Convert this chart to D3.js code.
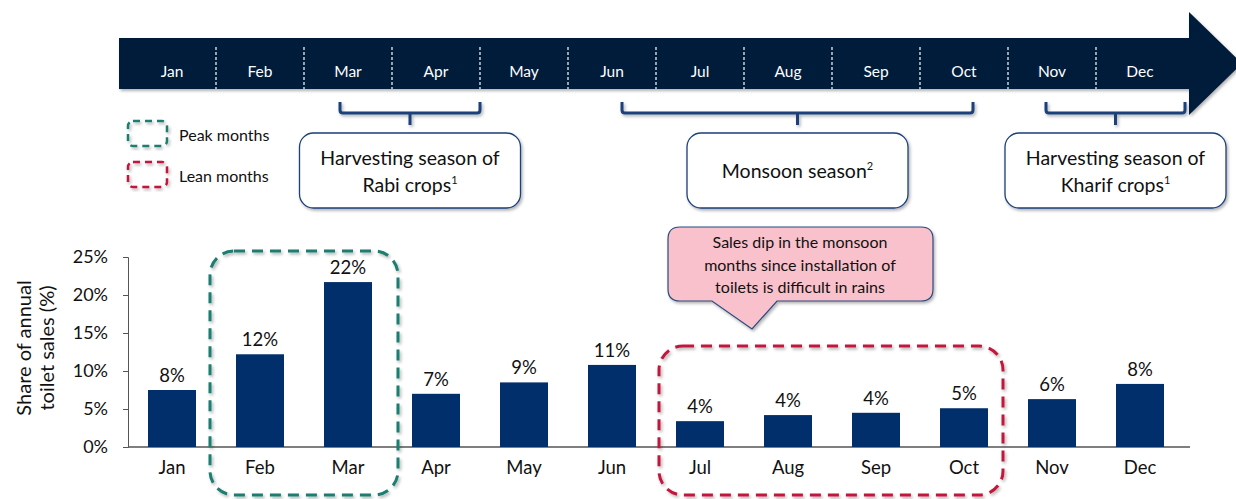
<!DOCTYPE html>
<html>
<head>
<meta charset="utf-8">
<script src="https://cdn.jsdelivr.net/npm/d3@7"></script>
<style>
  body { margin: 0; background: #fff; }
  svg { font-family: Lato, "Open Sans", sans-serif; }
</style>
</head>
<body>
<svg width="1236" height="499"></svg>
<script>
// data
var months = ["Jan", "Feb", "Mar", "Apr", "May", "Jun", "Jul", "Aug", "Sep", "Oct", "Nov", "Dec"];
var share = [7.5, 12.2, 21.7, 7.0, 8.5, 10.8, 3.4, 4.2, 4.5, 5.1, 6.3, 8.3];
var shareLabels = ["8%", "12%", "22%", "7%", "9%", "11%", "4%", "4%", "4%", "5%", "6%", "8%"];
var yTicks = [0, 5, 10, 15, 20, 25];

var seasons = [
  { from: "Mar", to: "Apr", lines: ["Harvesting season of", "Rabi crops"], sup: "1" },
  { from: "Jun", to: "Oct", lines: ["Monsoon season"], sup: "2" },
  { from: "Nov", to: "Dec", lines: ["Harvesting season of", "Kharif crops"], sup: "1" }
];
var peakMonths = ["Feb", "Mar"];
var leanMonths = ["Jul", "Aug", "Sep", "Oct"];
var calloutLines = ["Sales dip in the monsoon", "months since installation of", "toilets is difficult in rains"];

var navy = "#002f6c", dark = "#061a3a", teal = "#1b7d70", red = "#c3173d";

var svg = d3.select("svg");

var defs = svg.append("defs");
var f = defs.append("filter").attr("id", "shadow").attr("x", "-10%").attr("y", "-10%").attr("width", "130%").attr("height", "130%");
f.append("feDropShadow").attr("dx", 1.5).attr("dy", 2).attr("stdDeviation", 1.5)
  .attr("flood-color", "#000").attr("flood-opacity", 0.3);

// **** scales ****
var x = d3.scaleBand().domain(months).range([128, 1184])
  .paddingInner(40 / 88).paddingOuter(20 / 88);
var step = x.step();
function cellStart(m) { return x(m) - (step - x.bandwidth()) / 2; }
function center(m) { return x(m) + x.bandwidth() / 2; }

var y = d3.scaleLinear().domain([0, 25]).range([447, 257]);

// **** timeline arrow ****
var tl = svg.append("g");
tl.append("path")
  .attr("d", "M119,38 H1189 V12 L1242,63.5 L1189,115 V89 H119 Z")
  .attr("fill", dark).attr("filter", "url(#shadow)");

tl.selectAll("line.sep").data(months.slice(1))
  .enter().append("line")
  .attr("x1", function(d) { return cellStart(d); })
  .attr("x2", function(d) { return cellStart(d); })
  .attr("y1", 47).attr("y2", 89)
  .attr("stroke", "#fff").attr("stroke-width", 1.2).attr("stroke-dasharray", "3,2");

tl.selectAll("text").data(months)
  .enter().append("text")
  .attr("x", function(d) { return center(d); })
  .attr("y", 77)
  .attr("text-anchor", "middle")
  .attr("fill", "#fff").attr("font-size", 15.5)
  .text(function(d) { return d; });

// **** season braces and boxes ****
var braceX = [
  [center("Mar") - 8, cellStart("Apr") + step],
  [center("Jun") + 10, center("Oct") + 9],
  [center("Nov") - 6, cellStart("Dec") + step + 1]
];
seasons.forEach(function(s, i) {
  var x0 = braceX[i][0], x1 = braceX[i][1], xm = (x0 + x1) / 2;
  svg.append("path")
    .attr("d", "M" + x0 + ",102 V110 Q" + x0 + ",113 " + (x0 + 3) + ",113 H" + (x1 - 3) +
      " Q" + x1 + ",113 " + x1 + ",110 V102 M" + xm + ",113 V125")
    .attr("fill", "none").attr("stroke", "#1b3f7a").attr("stroke-width", 3)
    .attr("filter", "url(#shadow)");
  svg.append("rect")
    .attr("x", xm - 110.5).attr("y", 133).attr("width", 221).attr("height", 75)
    .attr("rx", 14)
    .attr("fill", "#fff").attr("stroke", "#1b3f7a").attr("stroke-width", 1.3)
    .attr("filter", "url(#shadow)");
  var t = svg.append("text").attr("text-anchor", "middle").attr("font-size", 19.5).attr("fill", "#111");
  var y0 = s.lines.length == 1 ? 178 : 165;
  s.lines.forEach(function(line, j) {
    t.append("tspan").attr("x", xm).attr("y", y0 + j * 27).text(line);
    if (j == s.lines.length - 1) {
      t.append("tspan").attr("dy", -8).attr("font-size", 11).text(s.sup);
    }
  });
});

// **** legend ****
var legend = [{ label: "Peak months", color: teal }, { label: "Lean months", color: red }];
var lg = svg.selectAll("g.legend").data(legend).enter().append("g")
  .attr("transform", function(d, i) { return "translate(128," + (121 + i * 41) + ")"; });
lg.append("rect")
  .attr("width", 39).attr("height", 25).attr("rx", 5)
  .attr("fill", "none").attr("stroke", function(d) { return d.color; })
  .attr("stroke-width", 2.5).attr("stroke-dasharray", "7,5")
  .attr("filter", "url(#shadow)");
lg.append("text")
  .attr("x", 51).attr("y", 20)
  .attr("font-size", 16).attr("fill", "#111")
  .text(function(d) { return d.label; });

// **** axes ****
svg.append("g")
  .attr("transform", "translate(128,0)")
  .call(d3.axisLeft(y).tickValues(yTicks).tickSize(5).tickFormat(function(d) { return d + "%"; }))
  .call(function(g) {
    g.select(".domain").attr("stroke", "#555");
    g.selectAll(".tick line").attr("stroke", "#555");
    g.selectAll(".tick text").attr("font-size", 18).attr("fill", "#111")
      .attr("font-family", "Lato, sans-serif").attr("x", -20);
  });

svg.append("line")
  .attr("x1", 128).attr("x2", 1190).attr("y1", y(0)).attr("y2", y(0))
  .attr("stroke", "#555").attr("stroke-width", 1.5);

svg.append("text")
  .attr("transform", "translate(31,348) rotate(-90)")
  .attr("text-anchor", "middle").attr("font-size", 20).attr("fill", "#111")
  .text("Share of annual");
svg.append("text")
  .attr("transform", "translate(54,348) rotate(-90)")
  .attr("text-anchor", "middle").attr("font-size", 20).attr("fill", "#111")
  .text("toilet sales (%)");

// **** bars ****
var bars = svg.selectAll("g.bar").data(months).enter().append("g");
bars.append("rect")
  .attr("x", function(d) { return x(d); })
  .attr("width", x.bandwidth())
  .attr("y", function(d, i) { return y(share[i]); })
  .attr("height", function(d, i) { return y(0) - y(share[i]); })
  .attr("fill", navy);
bars.append("text")
  .attr("x", function(d) { return center(d); })
  .attr("y", function(d, i) { return y(share[i]) - 8; })
  .attr("text-anchor", "middle").attr("font-size", 18.5).attr("fill", "#111")
  .text(function(d, i) { return shareLabels[i]; });
bars.append("text")
  .attr("x", function(d) { return center(d); })
  .attr("y", 474)
  .attr("text-anchor", "middle").attr("font-size", 18.5).attr("fill", "#111")
  .text(function(d) { return d; });

// **** peak / lean highlight boxes ****
function highlight(list, color, top, padL, padR) {
  var a = cellStart(list[0]) + padL;
  var b = cellStart(list[list.length - 1]) + step + padR;
  svg.append("rect")
    .attr("x", a).attr("y", top).attr("width", b - a).attr("height", 495 - top)
    .attr("rx", 24)
    .attr("fill", "none").attr("stroke", color).attr("stroke-width", 3)
    .attr("stroke-dasharray", "11,7")
    .attr("filter", "url(#shadow)");
}
highlight(peakMonths, teal, 251, -6, 6);
highlight(leanMonths, red, 346, 3, -5);

// **** callout ****
var cx0 = 668, cx1 = 933, cy0 = 227, cy1 = 301, r = 12;
var tipX = center("Jul") + 52;
svg.append("path")
  .attr("d", "M" + (cx0 + r) + "," + cy0 + " H" + (cx1 - r) + " Q" + cx1 + "," + cy0 + " " + cx1 + "," + (cy0 + r) +
    " V" + (cy1 - r) + " Q" + cx1 + "," + cy1 + " " + (cx1 - r) + "," + cy1 +
    " H777 L" + tipX + ",329 L712," + cy1 +
    " H" + (cx0 + r) + " Q" + cx0 + "," + cy1 + " " + cx0 + "," + (cy1 - r) +
    " V" + (cy0 + r) + " Q" + cx0 + "," + cy0 + " " + (cx0 + r) + "," + cy0 + " Z")
  .attr("fill", "#f9c1cc").attr("stroke", "#2b4b80").attr("stroke-width", 1.2)
  .attr("filter", "url(#shadow)");
svg.append("text")
  .attr("text-anchor", "middle").attr("font-size", 16).attr("fill", "#111")
  .selectAll("tspan").data(calloutLines).enter().append("tspan")
  .attr("x", 800).attr("y", function(d, i) { return 248 + i * 22.5; })
  .text(function(d) { return d; });
</script>
</body>
</html>
